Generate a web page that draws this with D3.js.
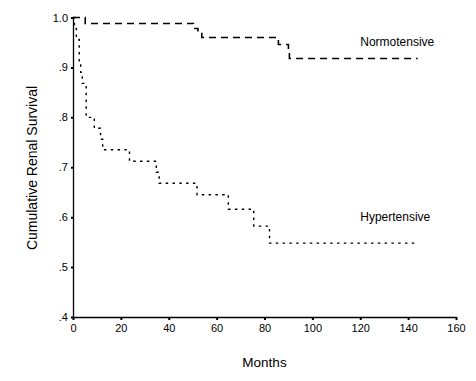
<!DOCTYPE html>
<html>
<head>
<meta charset="utf-8">
<script src="https://cdnjs.cloudflare.com/ajax/libs/d3/7.8.5/d3.min.js"></script>
<style>
  body { margin: 0; background: #fff; }
  text { font-family: "Liberation Sans", Arial, sans-serif; fill: #000; }
</style>
</head>
<body>
<div id="chart"></div>
<script>
// Kaplan-Meier steps: month of each drop, survival after it
var normMonths = [0, 5.1, 50.3, 52.2, 53.8, 85.8, 90.0, 90.4, 144];
var normSurv   = [1.0, 0.988, 0.978, 0.968, 0.960, 0.946, 0.932, 0.918, 0.918];

var hypMonths = [0, 0.6, 1.4, 2.6, 3.2, 3.9, 5.5, 8.9, 11.5, 12.4, 23.6, 34.8, 36.0, 51.8, 64.9, 75.5, 82.1, 144];
var hypSurv   = [1.0, 0.978, 0.956, 0.912, 0.890, 0.868, 0.800, 0.778, 0.756, 0.735, 0.712, 0.690, 0.668, 0.645, 0.616, 0.582, 0.548, 0.548];

var xTicks = [0, 20, 40, 60, 80, 100, 120, 140, 160];
var yTicks = [0.4, 0.5, 0.6, 0.7, 0.8, 0.9, 1.0];

var svg = d3.select("#chart").append("svg")
  .attr("width", 476)
  .attr("height", 381);

var x = d3.scaleLinear().domain([0, 160]).range([73, 456]);
var y = d3.scaleLinear().domain([0.4, 1.0]).range([317, 17.5]);

var yFmt = function(d) {
  if (d === 1) return "1.0";
  return d3.format(".1f")(d).replace(/^0/, "");
};

var xAxis = svg.append("g")
  .attr("transform", "translate(0," + y(0.4) + ")")
  .call(d3.axisBottom(x).tickValues(xTicks).tickSize(3).tickPadding(4).tickSizeOuter(0));
xAxis.selectAll("text").style("font-size", "11px");

var yAxis = svg.append("g")
  .attr("transform", "translate(" + x(0) + ",0)")
  .call(d3.axisLeft(y).tickValues(yTicks).tickFormat(yFmt).tickSize(2).tickPadding(3).tickSizeOuter(0));
yAxis.selectAll("text").style("font-size", "11px");

svg.selectAll(".domain").attr("stroke", "#000").attr("stroke-width", 1.3);
svg.selectAll(".tick line").attr("stroke", "#000").attr("stroke-width", 2);

var line = d3.line()
  .x(function(d) { return x(d[0]); })
  .y(function(d) { return y(d[1]); })
  .curve(d3.curveStepAfter);

svg.append("path")
  .datum(d3.zip(normMonths, normSurv))
  .attr("d", line)
  .attr("fill", "none")
  .attr("stroke", "#000")
  .attr("stroke-width", 1.6)
  .attr("stroke-dasharray", "7,5");

svg.append("path")
  .datum(d3.zip(hypMonths, hypSurv))
  .attr("d", line)
  .attr("fill", "none")
  .attr("stroke", "#000")
  .attr("stroke-width", 1.4)
  .attr("stroke-dasharray", "2.5,4.3");

// curve labels
svg.append("text")
  .attr("x", x(120))
  .attr("y", y(0.943))
  .style("font-size", "12px")
  .text("Normotensive");

svg.append("text")
  .attr("x", x(120))
  .attr("y", y(0.592))
  .style("font-size", "12px")
  .text("Hypertensive");

// axis titles
svg.append("text")
  .attr("x", (x(0) + x(160)) / 2)
  .attr("y", 367)
  .attr("text-anchor", "middle")
  .style("font-size", "13.5px")
  .text("Months");

svg.append("text")
  .attr("transform", "translate(37," + 168 + ") rotate(-90)")
  .attr("text-anchor", "middle")
  .style("font-size", "14px")
  .text("Cumulative Renal Survival");
</script>
</body>
</html>
